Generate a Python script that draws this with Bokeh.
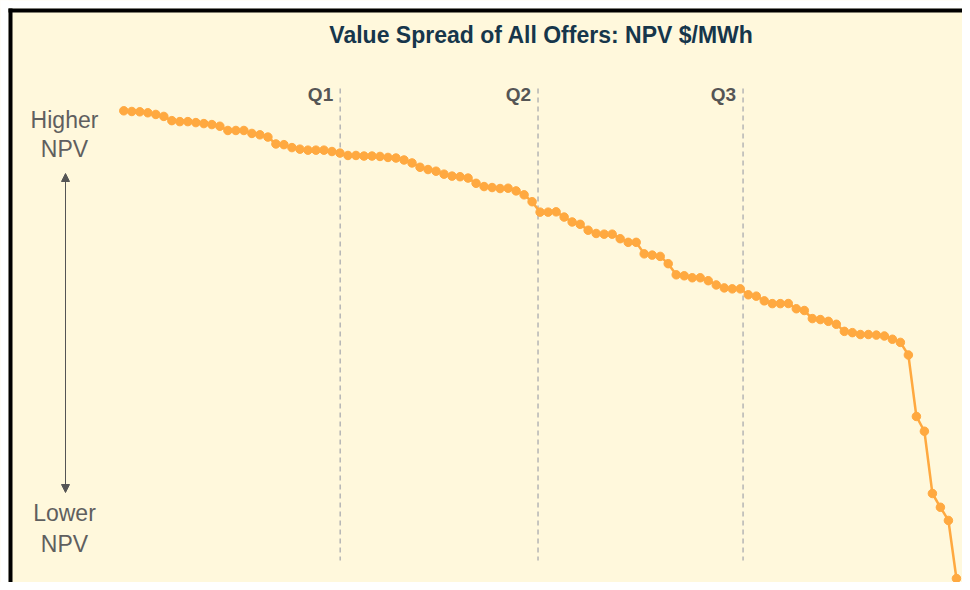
from bokeh.plotting import figure
from bokeh.models import Label, Arrow, NormalHead, Range1d
from bokeh.core.properties import value
from bokeh.embed import file_html
from bokeh.resources import INLINE

# ---- data (NPV per offer, sorted high -> low; relative units) ----
npv = [48.97, 48.90, 48.87, 48.77, 48.60, 48.40, 47.97, 47.87, 47.87, 47.77,
       47.67, 47.57, 47.40, 46.97, 46.97, 46.97, 46.67, 46.53, 46.30, 45.60,
       45.53, 45.23, 45.07, 44.97, 44.97, 44.97, 44.83, 44.67, 44.43, 44.43,
       44.37, 44.37, 44.33, 44.23, 44.17, 43.97, 43.67, 43.23, 43.00, 42.83,
       42.53, 42.33, 42.27, 42.13, 41.60, 41.27, 41.17, 41.07, 41.10, 40.83,
       40.43, 39.73, 38.67, 38.67, 38.70, 38.17, 37.67, 37.43, 36.83, 36.50,
       36.43, 36.43, 35.97, 35.60, 35.60, 34.43, 34.30, 34.17, 33.43, 32.30,
       32.20, 32.00, 32.00, 31.70, 31.27, 30.97, 30.87, 30.87, 30.27, 30.13,
       29.65, 29.37, 29.37, 29.38, 28.85, 28.67, 27.85, 27.75, 27.57, 27.27,
       26.55, 26.42, 26.23, 26.23, 26.17, 26.08, 25.75, 25.43, 24.15, 17.90,
       16.40, 10.07, 8.67, 7.33, 1.43]
offer_rank = list(range(len(npv)))
quartile_pos = [27.03, 51.74, 77.35]
quartile_labels = ["Q1", "Q2", "Q3"]
title_text = "Value Spread of All Offers: NPV $/MWh"
higher_lines = ["Higher", "NPV"]
lower_lines = ["Lower", "NPV"]

# ---- layout geometry (page pixels; figure sits at page origin) ----
W, H = 962, 582
X_FIRST, X_STEP = 123.3, 8.006   # page px of first offer, px per offer
Y_TOP_PX, K = 110.3, 9.838       # page px of top value, px per NPV unit
top_val = npv[0]

def fx(page_x):
    return (page_x - X_FIRST) / X_STEP

def fy(page_y):
    return top_val - (page_y - Y_TOP_PX) / K

p = figure(width=W, height=H,
           x_range=Range1d(fx(0), fx(W)),
           y_range=Range1d(fy(H), fy(0)),
           output_backend="svg", toolbar_location=None,
           x_axis_location=None, y_axis_location=None,
           min_border=0, min_border_left=0, min_border_top=0,
           min_border_right=0, min_border_bottom=0,
           background_fill_color="#fff8dc", border_fill_color="white",
           outline_line_color=None)
p.grid.visible = False

# page margin (white) and black frame border on top / left
p.quad(left=[fx(-20), fx(-20)], right=[fx(8), fx(W + 20)],
       top=[fy(-20), fy(-20)], bottom=[fy(H + 20), fy(8)],
       fill_color="white", line_color=None)
p.quad(left=[fx(8), fx(8)], right=[fx(12), fx(W + 20)],
       top=[fy(8), fy(8)], bottom=[fy(H + 20), fy(12)],
       fill_color="black", line_color=None)

FONT = "Liberation Sans"
GRAY = "#5f5f5f"

# quartile dashed lines
p.segment(x0=quartile_pos, y0=[fy(88)] * 3, x1=quartile_pos, y1=[fy(560)] * 3,
          line_color="#b5b5b5", line_width=1.5, line_dash="5 4")
p.text(x=quartile_pos, y=[fy(94)] * 3, text=quartile_labels, x_offset=-7,
       text_align="right", text_baseline="middle", text_font=value(FONT),
       text_font_style="bold", text_font_size="19px", text_color="#555555")

# offers line
ORANGE = "#ffa940"
p.line(offer_rank, npv, line_color=ORANGE, line_width=2.5)
p.scatter(offer_rank, npv, size=8.5, fill_color=ORANGE, line_color=ORANGE)

# title
p.add_layout(Label(x=fx(541), y=fy(34), text=title_text, text_align="center",
                   text_baseline="middle", text_font=FONT, text_font_style="bold",
                   text_font_size="23px", text_color="#16364b"))

# side labels
for txt, yy in zip(higher_lines + lower_lines, [119, 148, 512, 543]):
    p.add_layout(Label(x=fx(64), y=fy(yy), text=txt, text_align="center",
                       text_baseline="middle", text_font=FONT,
                       text_font_size="23px", text_color=GRAY))

p.add_layout(Arrow(start=NormalHead(size=8, fill_color="#555555", line_color="#555555"),
                   end=NormalHead(size=8, fill_color="#555555", line_color="#555555"),
                   x_start=fx(65), y_start=fy(173), x_end=fx(65), y_end=fy(492),
                   line_color="#555555", line_width=1))

open("out.html", "w").write(file_html(p, INLINE))
